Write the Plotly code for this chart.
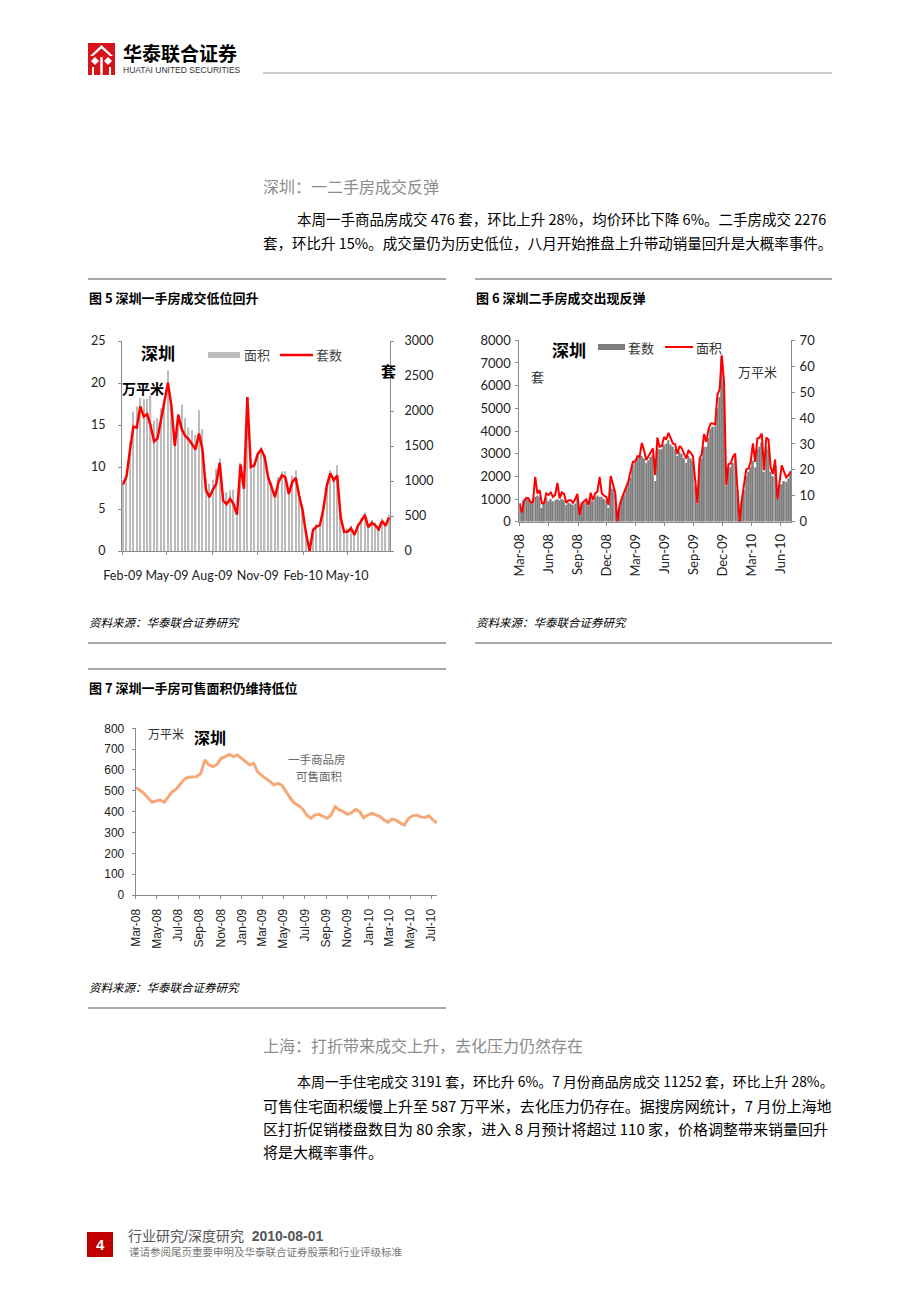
import plotly.graph_objects as go
import pandas as pd

# page is 920x1302; the browser body adds an 8px margin, so the figure is 904x1286
OFF = 8
W, H = 904, 1286
def X(px): return (px - OFF) / W
def Y(py): return 1 - (py - OFF) / H

CJK = "Noto Sans CJK SC"

# ---------------- Chart 5 data (Shenzhen new homes, weekly) ----------------
c5_start = "2009-02-01"
c5_area = [8.0, 8.8, 13.1, 16.6, 17.2, 18.2, 18.1, 18.1, 18.5, 15.5,
           15.8, 17.0, 17.9, 21.5, 17.9, 13.1, 16.3, 17.4, 15.8, 14.7,
           14.4, 13.8, 16.8, 14.5, 8.6, 8.0, 8.5, 9.8, 11.0, 6.5,
           7.0, 7.2, 7.3, 5.0, 10.5, 7.8, 18.3, 10.2, 10.5, 11.8,
           12.2, 11.5, 9.0, 8.2, 7.0, 8.8, 9.5, 9.5, 7.5, 9.0,
           9.6, 7.0, 5.5, 2.5, 0.8, 2.8, 3.2, 3.4, 5.4, 8.2,
           9.6, 8.8, 10.2, 4.4, 2.6, 2.7, 3.0, 2.2, 3.3, 3.9,
           4.6, 3.1, 3.7, 3.4, 2.9, 3.9, 3.3, 4.3]
c5_units = [950, 1063, 1430, 1775, 1765, 2065, 1920, 1955, 1790, 1565,
            1610, 1860, 2125, 2405, 2075, 1500, 1945, 1740, 1645, 1595,
            1525, 1450, 1680, 1450, 875, 770, 875, 960, 1260, 720,
            670, 745, 670, 520, 1235, 890, 2200, 1200, 1225, 1385,
            1450, 1345, 1055, 910, 770, 985, 1080, 1055, 815, 985,
            1045, 790, 575, 245, 0, 295, 350, 370, 600, 935,
            1110, 1010, 1080, 480, 275, 275, 325, 230, 360, 430,
            515, 340, 405, 370, 310, 430, 360, 480]

# ---------------- Chart 6 data (Shenzhen resale, weekly) ----------------
c6_start = "2008-03-01"
c6_units = [700, 500, 950, 1050, 1000, 800, 850, 1100, 1150, 1100,
            600, 800, 1050, 900, 1000, 900, 950, 1000, 950, 1000,
            950, 750, 850, 800, 750, 800, 1000, 450, 750, 850,
            900, 700, 1050, 900, 1100, 1150, 1100, 1100, 1000, 950,
            600, 1500, 1450, 1200, 100, 650, 950, 1200, 1500, 1750,
            1950, 2500, 2600, 2800, 2950, 2900, 2800, 2600, 2700, 2850,
            2950, 1800, 3300, 3200,
            3200, 3400, 3450, 3600, 3400, 3300, 3200, 2900, 3100, 3000,
            2800, 2600, 2900, 2800, 2700, 1600, 800, 2500, 2800, 3300,
            3300, 3700, 4100, 4200, 4200, 5000, 5500, 7300, 6200, 1600,
            2300, 2400, 2600, 2800, 1400, 100, 900, 1400, 2000, 2200,
            2400, 2700, 2400, 3200, 3300, 3500, 2200, 3300, 3200, 2200,
            2000, 2500, 1000, 1600, 1650, 1800, 1750, 1900, 2250]
c6_area = [7.1, 3.5, 8.1, 9.2, 9.0, 7.3, 7.7, 17.3, 10.9, 12.2,
           7.1, 7.1, 10.9, 10.3, 11.3, 9.6, 10.3, 15.0, 9.0, 11.3,
           10.7, 7.3, 8.3, 8.3, 7.3, 8.6, 10.7, 2.6, 7.1, 8.0,
           8.6, 6.4, 11.2, 8.3, 10.9, 11.6, 17.3, 10.9, 10.0, 9.6,
           6.4, 17.6, 14.1, 11.2, 0.0, 6.4, 9.0, 11.2, 13.5, 15.8,
           19.7, 23.1, 23.1, 25.3, 25.0, 30.4, 27.6, 23.8, 25.3, 26.6,
           28.3, 18.0, 32.5, 28.9,
           29.2, 32.7, 31.7, 34.3, 32.1, 30.2, 29.9, 26.1, 29.2, 28.3,
           26.3, 24.4, 27.4, 26.6, 25.3, 14.8, 7.1, 24.4, 26.1, 33.8,
           30.8, 35.6, 37.9, 37.9, 37.5, 48.8, 51.0, 64.2, 53.9, 14.1,
           22.2, 22.5, 25.0, 26.3, 13.5, 0.0, 8.3, 13.7, 20.2, 20.5,
           23.1, 30.2, 23.1, 32.1, 32.5, 34.0, 19.9, 32.5, 31.7, 20.9,
           18.4, 24.0, 8.6, 15.4, 21.8, 19.3, 17.1, 18.0, 19.3]

# ---------------- Chart 7 data (available area) ----------------
c7_start, c7_end = "2008-03-01", "2010-07-17"
c7_stock = [515, 504, 488, 467, 445, 451, 456, 445, 472, 496,
            509, 536, 557, 565, 568, 568, 584, 648, 624, 616,
            627, 656, 664, 675, 664, 672, 656, 640, 624, 632,
            589, 573, 560, 544, 528, 536, 525, 493, 464, 440,
            429, 413, 384, 368, 384, 387, 379, 368, 384, 424,
            408, 400, 387, 395, 411, 400, 371, 384, 392, 384,
            376, 360, 349, 365, 358, 345, 336, 368, 380, 384,
            375, 372, 380, 360, 345]

c5_dates = pd.date_range(c5_start, periods=len(c5_units), freq="7D")
c6_dates = pd.date_range(c6_start, periods=len(c6_units), freq="7D")
c7_dates = pd.date_range(c7_start, c7_end, periods=len(c7_stock))

DAY_MS = 86400000
fig = go.Figure()
fig.add_trace(go.Bar(x=c5_dates, y=c5_area, xaxis="x", yaxis="y",
                     marker=dict(color="#bcbcbc", line=dict(width=0)),
                     width=7 * DAY_MS * 0.38, name="面积"))
fig.add_trace(go.Scatter(x=c5_dates, y=c5_units, xaxis="x", yaxis="y2", mode="lines",
                         line=dict(color="#ff0000", width=2.5), name="套数"))
fig.add_trace(go.Bar(x=c6_dates, y=c6_units, xaxis="x2", yaxis="y3",
                     marker=dict(color="#7d7d7d", line=dict(width=0)),
                     width=7 * DAY_MS * 0.72, name="套数"))
fig.add_trace(go.Scatter(x=c6_dates, y=c6_area, xaxis="x2", yaxis="y4", mode="lines",
                         line=dict(color="#ff0000", width=2), name="面积"))
fig.add_trace(go.Scatter(x=c7_dates, y=c7_stock, xaxis="x3", yaxis="y5", mode="lines",
                         line=dict(color="#f5a878", width=3), name="一手商品房可售面积"))

pad = pd.Timedelta(days=2)
def rng(d, p=pad):
    return [str((d[0] - p).date()), str((d[-1] + p).date())]

AX = "#8a8a8a"
f5 = dict(family="Lato", size=12.5, color="#222")
f6 = dict(family="Lato", size=13, color="#222")
f7 = dict(family="Liberation Sans", size=12, color="#222")
common = dict(showgrid=False, zeroline=False, showline=True, linecolor=AX, linewidth=1,
              ticks="outside", tickcolor=AX, ticklen=3, automargin=False)

fig.update_layout(
    width=W, height=H, margin=dict(l=0, r=0, t=0, b=0, pad=0, autoexpand=False),
    paper_bgcolor="white", plot_bgcolor="white", showlegend=False, barmode="overlay",
    xaxis=dict(domain=[X(122), X(390)], anchor="y", type="date", range=rng(c5_dates),
               dtick="M3", tick0="2009-02-01", tickformat="%b-%y", tickfont=f5,
               ticklabelstandoff=10, **common),
    yaxis=dict(domain=[Y(551), Y(341)], anchor="x", range=[0, 25], dtick=5, tickfont=f5,
               ticklabelstandoff=10, **common),
    yaxis2=dict(overlaying="y", side="right", anchor="x", range=[0, 3000], dtick=500,
                tickfont=f5, ticklabelstandoff=8, **common),
    xaxis2=dict(domain=[X(519.3), X(791)], anchor="y3", type="date", range=rng(c6_dates, pd.Timedelta(days=1)),
                dtick="M3", tick0="2008-03-01", tickformat="%b-%y", tickangle=-90, tickfont=f6,
                ticklabelstandoff=3, **common),
    yaxis3=dict(domain=[Y(521.7), Y(340.3)], anchor="x2", range=[0, 8000], dtick=1000,
                tickfont=f6, ticklabelstandoff=2, **common),
    yaxis4=dict(overlaying="y3", side="right", anchor="x2", range=[0, 70], dtick=10,
                tickfont=f6, ticklabelstandoff=2, **common),
    xaxis3=dict(domain=[X(135.7), X(437)], anchor="y5", type="date",
                range=[str(c7_dates[0].date()), str(c7_dates[-1].date())],
                dtick="M2", tick0="2008-03-01", tickformat="%b-%y", tickangle=-90, tickfont=f7,
                ticklabelstandoff=5, **common),
    yaxis5=dict(domain=[Y(895), Y(728.3)], anchor="x3", range=[0, 800], dtick=100,
                tickfont=f7, ticklabelstandoff=5, **common),
)

ann = []
def txt(px, py, s, size=13, color="#000", xanchor="left", family=CJK, bold=False, italic=False):
    if bold:
        s = "<b>" + s + "</b>"
    if italic:
        s = "<i>" + s + "</i>"
    ann.append(dict(x=X(px), y=Y(py), xref="paper", yref="paper", text=s, showarrow=False,
                    xanchor=xanchor, yanchor="middle", borderpad=0,
                    font=dict(family=family, size=size, color=color)))

# header
txt(122, 52, "华泰联合证券", size=19, bold=True)
txt(122, 70, "HUATAI UNITED SECURITIES", size=8.5, color="#333", family="Liberation Sans")

# section 1
txt(262, 186, "深圳：一二手房成交反弹", size=16, color="#8c8c8c")
txt(296, 218, "本周一手商品房成交 476 套，环比上升 28%，均价环比下降 6%。二手房成交 2276", size=14.5)
txt(262, 243, "套，环比升 15%。成交量仍为历史低位，八月开始推盘上升带动销量回升是大概率事件。", size=14.5)

# captions
txt(88, 298, "图 5 深圳一手房成交低位回升", size=13, bold=True)
txt(475, 298, "图 6 深圳二手房成交出现反弹", size=13, bold=True)
txt(88, 688, "图 7 深圳一手房可售面积仍维持低位", size=13, bold=True)

# sources
txt(88, 622, "资料来源：华泰联合证券研究", size=11.5, italic=True)
txt(475, 622, "资料来源：华泰联合证券研究", size=11.5, italic=True)
txt(88, 987, "资料来源：华泰联合证券研究", size=11.5, italic=True)

# chart 5 labels
txt(140, 352, "深圳", size=17, bold=True)
txt(121, 388, "万平米", size=14, bold=True)
txt(243, 355, "面积", size=13, color="#444")
txt(315, 355, "套数", size=13, color="#444")
txt(388, 370, "套", size=15, bold=True, xanchor="center")

# chart 6 labels
txt(551, 349, "深圳", size=17, bold=True)
txt(627, 347, "套数", size=13, color="#333")
txt(695, 347, "面积", size=13, color="#333")
txt(530, 376, "套", size=13, color="#333")
txt(737, 371, "万平米", size=13, color="#333")

# chart 7 labels
txt(147, 733, "万平米", size=12, color="#333")
txt(193, 737, "深圳", size=16, bold=True)
txt(287, 759, "一手商品房", size=11.5, color="#666")
txt(295, 776, "可售面积", size=11.5, color="#666")

# section 2
txt(262, 1045, "上海：打折带来成交上升，去化压力仍然存在", size=16, color="#8c8c8c")
txt(296, 1081, "本周一手住宅成交 3191 套，环比升 6%。7 月份商品房成交 11252 套，环比上升 28%。", size=13.9)
txt(262, 1105, "可售住宅面积缓慢上升至 587 万平米，去化压力仍存在。据搜房网统计，7 月份上海地", size=15)
txt(262, 1128, "区打折促销楼盘数目为 80 余家，进入 8 月预计将超过 110 家，价格调整带来销量回升", size=15)
txt(262, 1151, "将是大概率事件。", size=15)

# footer
txt(100, 1244, "4", size=15, color="white", bold=True, xanchor="center", family="Liberation Sans")
txt(127, 1236, "行业研究/深度研究  <b>2010-08-01</b>", size=14, color="#555",
    family="Liberation Sans, Noto Sans CJK SC")
txt(128, 1251, "谨请参阅尾页重要申明及华泰联合证券股票和行业评级标准", size=10.5, color="#777")

shapes = []
def hline(x0, x1, y, color="#555", w=1):
    shapes.append(dict(type="line", xref="paper", yref="paper", x0=X(x0), x1=X(x1), y0=Y(y), y1=Y(y),
                       line=dict(color=color, width=w)))
def rect(x0, y0, x1, y1, fill):
    shapes.append(dict(type="rect", xref="paper", yref="paper", x0=X(x0), x1=X(x1), y0=Y(y1), y1=Y(y0),
                       fillcolor=fill, line=dict(width=0)))
def path(pts, fill=None, color="white", w=0):
    d = "M " + " L ".join(f"{X(a):.5f},{Y(b):.5f}" for a, b in pts)
    if fill:
        d += " Z"
    shapes.append(dict(type="path", xref="paper", yref="paper", path=d,
                       fillcolor=fill if fill else "rgba(0,0,0,0)",
                       line=dict(color=color, width=w)))

hline(263, 832, 73, color="#999")
hline(88, 446, 279); hline(475, 832, 279)
hline(88, 446, 643); hline(475, 832, 643)
hline(88, 446, 669)
hline(88, 446, 1008)

# legend swatches
rect(208, 352, 240, 358, "#bcbcbc")
hline(280, 313, 355, color="#ff0000", w=2.5)
rect(598, 344, 625, 350, "#7d7d7d")
hline(665, 693, 347, color="#ff0000", w=2)

# logo
rect(88, 43, 115, 75, "#d7141a")
path([(90, 56), (101.5, 45), (113, 56), (110, 56), (101.5, 48.5), (93, 56)], fill="white")
path([(95, 57), (99, 61), (95, 65), (91, 61)], fill="white")
path([(108, 57), (112, 61), (108, 65), (104, 61)], fill="white")
rect(100.3, 57, 102.7, 75, "white")
rect(92, 67, 94, 75, "white")
rect(109, 67, 111, 75, "white")

# footer box
rect(87, 1232, 113, 1257, "#c00000")

fig.update_layout(annotations=ann, shapes=shapes)
fig.write_html("out.html")
